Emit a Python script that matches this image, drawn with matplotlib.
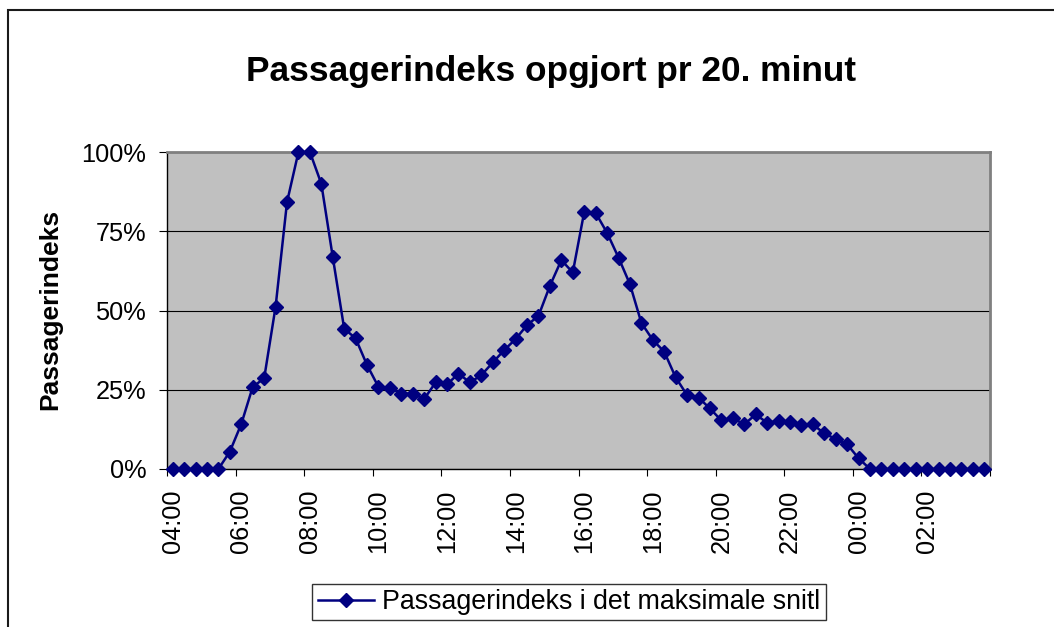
import matplotlib
matplotlib.use("Agg")
import matplotlib.pyplot as plt
from matplotlib.patches import Rectangle
from matplotlib.ticker import FixedLocator, FuncFormatter

# ---- data ----
title = "Passagerindeks opgjort pr 20. minut"
y_label = "Passagerindeks"
series_name = "Passagerindeks i det maksimale snitl"
# one value per 20-minute interval, starting 04:00 (percent)
values = [0, 0, 0, 0, 0, 5.5, 14.2, 25.9, 28.6, 51.2, 84.2, 100, 100, 90.0,
          66.9, 44.3, 41.2, 32.8, 25.9, 25.6, 23.8, 23.8, 22.1, 27.3, 26.7,
          30.1, 27.3, 29.6, 33.6, 37.5, 41.0, 45.4, 48.3, 57.8, 65.9, 62.0,
          81.1, 80.8, 74.5, 66.7, 58.3, 46.1, 40.7, 37.0, 28.9, 23.3, 22.5,
          19.1, 15.3, 16.0, 14.1, 17.2, 14.6, 15.1, 14.9, 13.9, 14.1, 11.2,
          9.5, 7.8, 3.4, 0, 0, 0, 0, 0, 0, 0, 0, 0, 0, 0]
tick_labels = ["04:00", "06:00", "08:00", "10:00", "12:00", "14:00",
               "16:00", "18:00", "20:00", "22:00", "00:00", "02:00"]
y_ticks = [0, 25, 50, 75, 100]
label_step = 6  # categories between labelled ticks

W, H = 1054, 627
plt.rcParams['font.family'] = ['Liberation Sans', 'DejaVu Sans']
fig = plt.figure(figsize=(W / 100, H / 100), dpi=100)
fig.patch.set_facecolor('white')

# outer chart border (clipped at right/bottom)
fig.patches.append(Rectangle((8 / W, -0.05), 1.2, 1 - 10 / H + 0.05,
                             transform=fig.transFigure, fill=False,
                             edgecolor='#1a1a1a', linewidth=1.5))

L, R, T, B = 167, 990, 152, 469
ax = fig.add_axes([L / W, 1 - B / H, (R - L) / W, (B - T) / H])
ax.set_facecolor('#c0c0c0')

x = list(range(len(values)))
line, = ax.plot(x, values, color='#000080', linewidth=1.8, marker='D',
                markersize=7.3, markerfacecolor='#000080',
                markeredgecolor='#000080', clip_on=False, zorder=5,
                label=series_name)

ax.set_xlim(-0.5, len(values) - 0.5)
ax.set_ylim(0, 100)

# y axis
ax.yaxis.set_major_locator(FixedLocator(y_ticks))
ax.yaxis.set_major_formatter(FuncFormatter(lambda v, p: f"{v:.0f}%"))
ax.grid(axis='y', color='black', linewidth=0.8)
ax.set_axisbelow(True)
ax.tick_params(axis='y', direction='out', length=6, width=0.8,
               pad=9, labelsize=18.3, colors='black')

# x axis: tick marks between categories, labels on category centers
n = len(values)
major_pos = [-0.5 + label_step * k for k in range(n // label_step + 1)]
label_pos = [label_step * k for k in range(len(tick_labels))]
ax.xaxis.set_major_locator(FixedLocator(major_pos))
ax.xaxis.set_major_formatter(FuncFormatter(lambda v, p: ""))
ax.xaxis.set_minor_locator(FixedLocator(label_pos))
ax.set_xticklabels(tick_labels, minor=True, rotation=90, fontsize=18.3)
ax.tick_params(axis='x', which='major', direction='out', length=5,
               width=0.8, colors='black')
ax.tick_params(axis='x', which='minor', length=0, pad=15)
for lab in ax.get_xticklabels(minor=True):
    lab.set_va('top')

for s in ['top', 'right']:
    ax.spines[s].set_color('#808080')
    ax.spines[s].set_linewidth(2)
for s in ['left', 'bottom']:
    ax.spines[s].set_color('black')
    ax.spines[s].set_linewidth(1)

fig.text(551 / W, 1 - 81 / H, title, ha='center', va='baseline',
         fontsize=25.4, fontweight='bold')
fig.text(50 / W, 1 - 309 / H, y_label, rotation=90, ha='center',
         va='center', fontsize=19, fontweight='bold')

leg = fig.legend(handles=[line], loc='center',
                 bbox_to_anchor=(569 / W, 1 - 602 / H), fontsize=19.3,
                 frameon=True, fancybox=False, shadow=False,
                 handlelength=2.1, handletextpad=0.3, borderpad=0.2,
                 borderaxespad=0)
leg.get_frame().set_edgecolor('black')
leg.get_frame().set_linewidth(1)

fig.savefig('out.png', dpi=100, facecolor='white')
